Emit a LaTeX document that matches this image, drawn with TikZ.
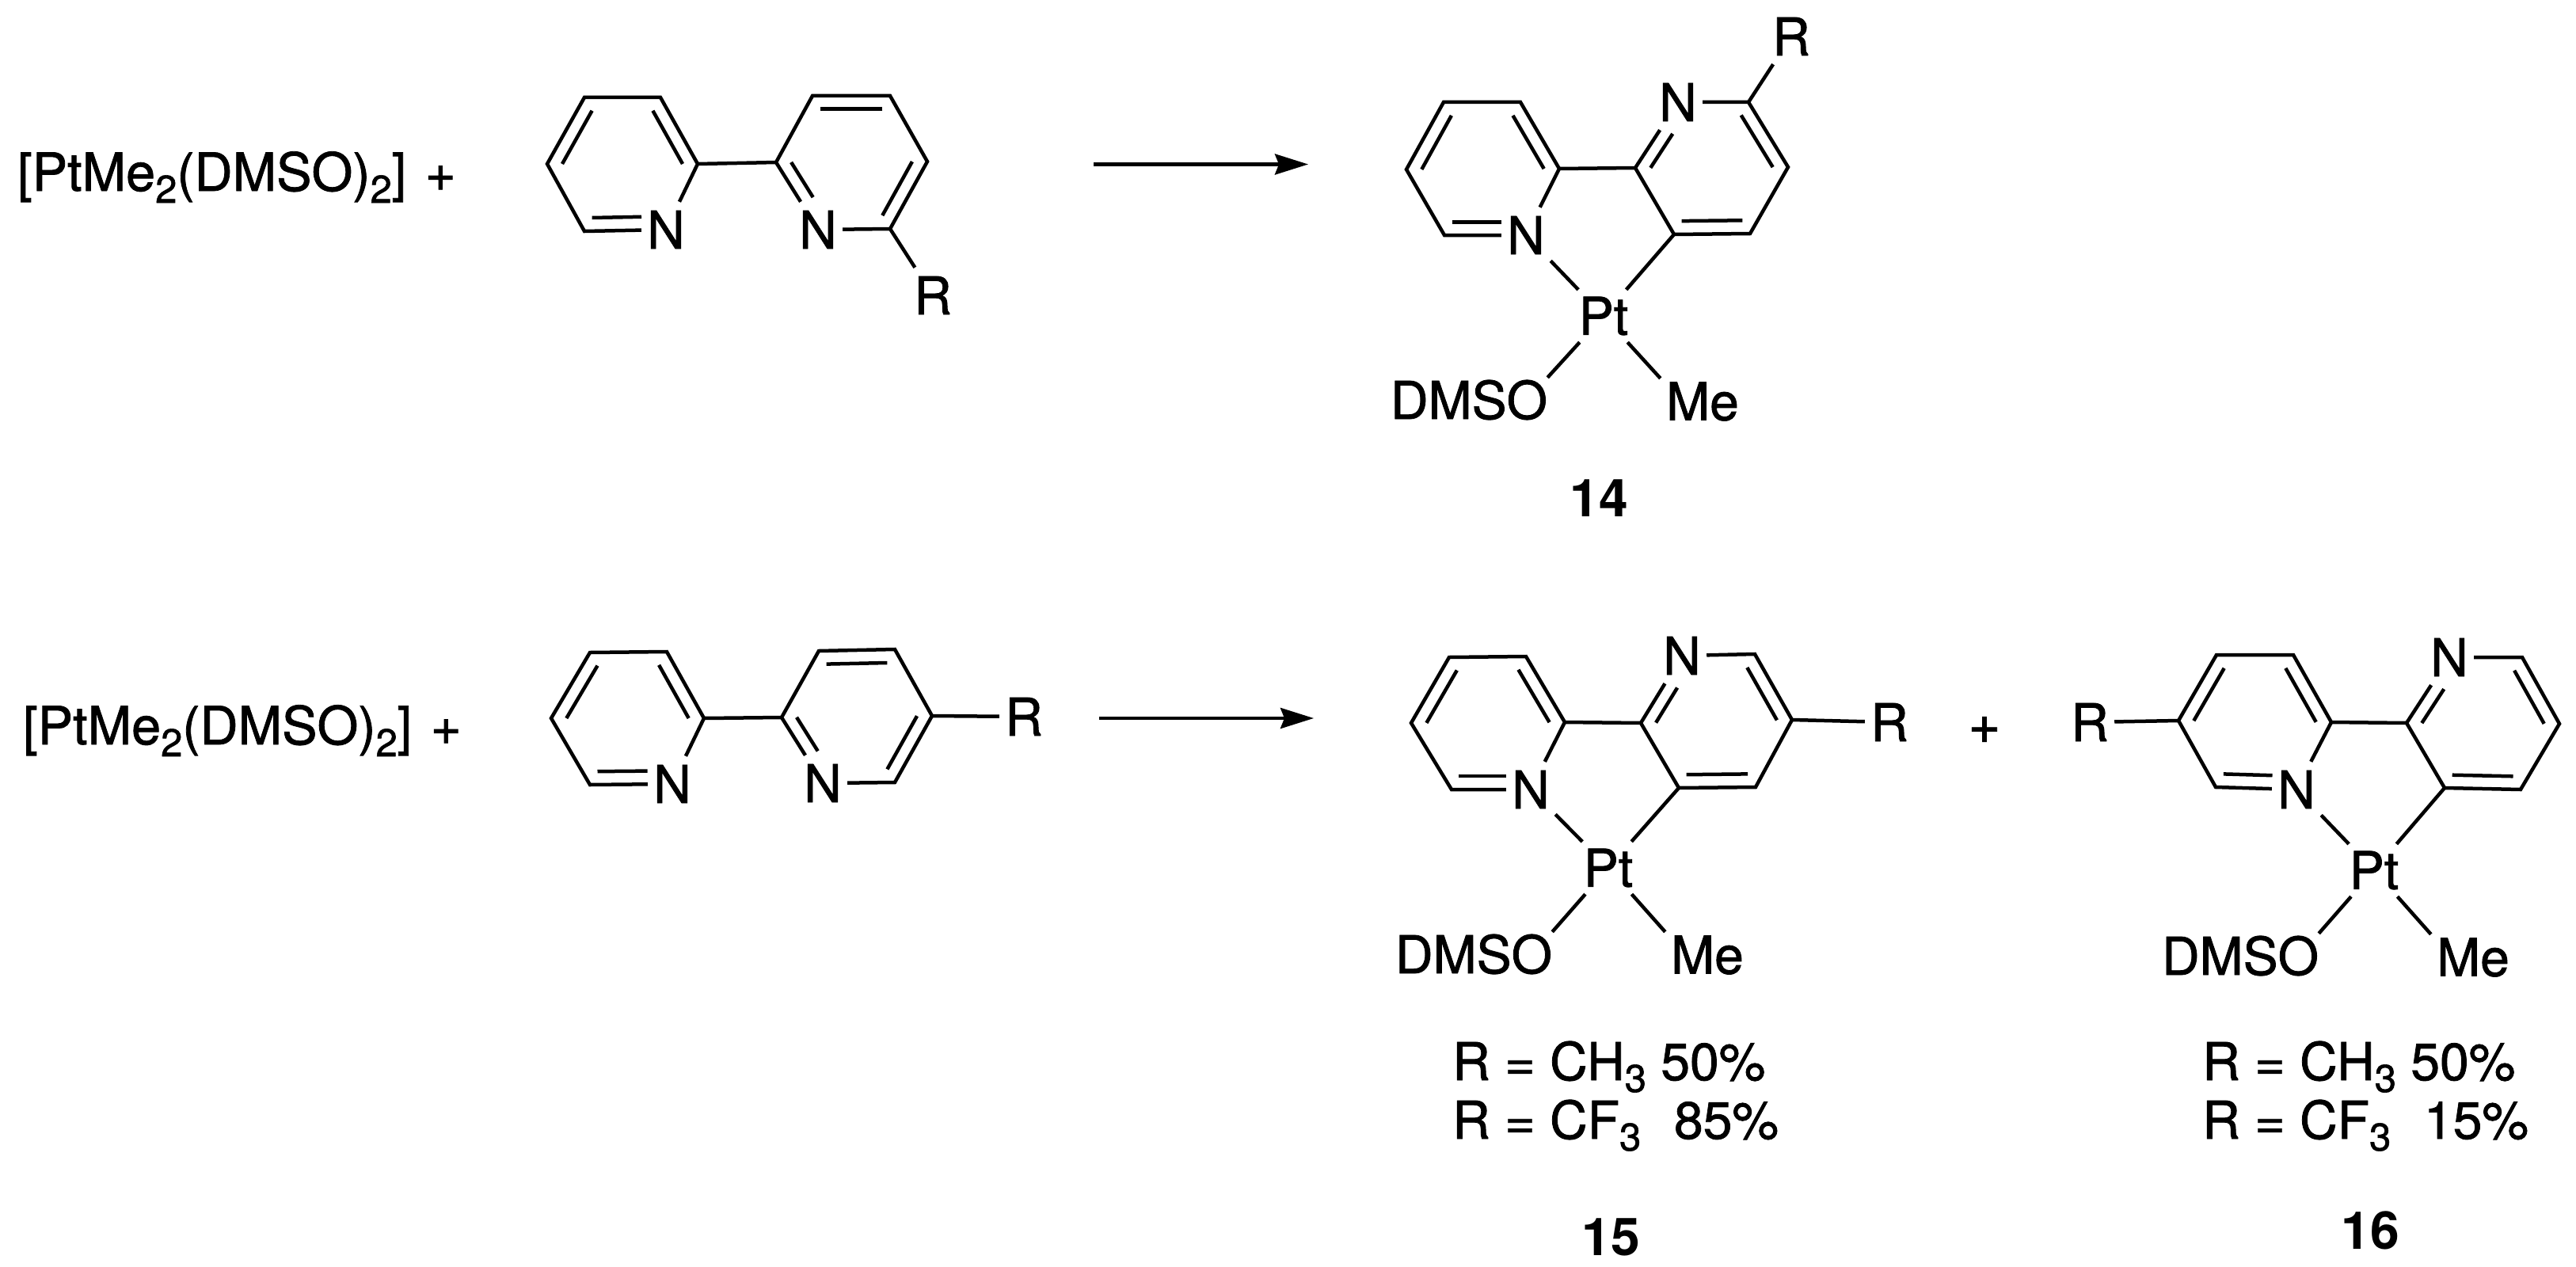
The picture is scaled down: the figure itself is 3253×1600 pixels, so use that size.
\documentclass[tikz,border=0pt]{standalone}
\usepackage{fontspec}
\setmainfont[FakeBold=1.2]{TeX Gyre Heros}
\newfontfamily\labfam{TeX Gyre Heros}
\usetikzlibrary{calc,arrows.meta}
\newcommand{\subs}[1]{\raisebox{-15pt}{\fontsize{49pt}{49pt}\selectfont #1}}
\tikzset{
  bond/.style={line width=4.5pt,line join=miter,miter limit=10},
  atom/.style={inner sep=0pt,minimum width=62pt,minimum height=70pt},
  ptatom/.style={inner sep=0pt,minimum width=72pt,minimum height=66pt},
  dmso/.style={inner sep=0pt,minimum width=194pt,minimum height=56pt},
  meth/.style={inner sep=0pt,minimum width=106pt,minimum height=58pt},
  txt/.style={inner sep=0pt,anchor=base west},
  lab/.style={inner sep=0pt,font=\fontsize{66pt}{66pt}\selectfont\labfam\bfseries},
  rxn/.style={line width=4.2pt,-{Stealth[length=42pt,width=26pt,inset=5pt]}},
}
\newcommand{\bipy}[1]{%
  \draw[bond] (#1N)--(#1d)--(#1e)--(#1a)--(#1b)--(#1c)--(#1N);
  \draw[bond] (#1T)--(#1g)--(#1h)--(#1i)--(#1j)--(#1f)--(#1T);
  \draw[bond] (#1c)--(#1f);
  \coordinate (#1L) at ($(#1c)!.5!(#1e)$);
  \coordinate (#1M) at ($(#1f)!.5!(#1h)$);
  \draw[bond] ($(#1L)!.8!(#1a)$)--($(#1L)!.8!(#1e)$);
  \draw[bond] ($(#1L)!.8!(#1b)$)--($(#1L)!.8!(#1c)$);
  \draw[bond,shorten >=20pt] ($(#1L)!.8!(#1d)$)--($(#1L)!.8!(#1N)$);
  \draw[bond,shorten >=28pt] ($(#1M)!.8!(#1f)$)--($(#1M)!.8!(#1T)$);
  \draw[bond] ($(#1M)!.8!(#1g)$)--($(#1M)!.8!(#1h)$);
  \draw[bond] ($(#1M)!.8!(#1i)$)--($(#1M)!.8!(#1j)$);
}
\newcommand{\ptbonds}[1]{%
  \draw[bond] (#1N)--(#1P);
  \draw[bond] (#1j)--(#1P);
  \draw[bond] (#1P)--(#1D.north east);
  \draw[bond] (#1P)--(#1E.north west);
}
\begin{document}
\begin{tikzpicture}[x=1pt,y=-1pt,font=\fontsize{66pt}{66pt}\selectfont]
\useasboundingbox (0,0) rectangle (3253,1600);
\fill[white] (0,0) rectangle (3253,1600);

% ---------- first row ----------
\node[txt,font=\fontsize{66.6pt}{66pt}\selectfont] (reagA) at (22,241) {[PtMe\subs{2}(DMSO)\subs{2}]\kern5pt{} +};

\coordinate (Aa) at (738,123); \coordinate (Ab) at (834,123);
\coordinate (Ac) at (881,207); \coordinate (Ad) at (738,292);
\coordinate (Ae) at (691,207); \coordinate (Af) at (980,205);
\coordinate (Ag) at (1124,289); \coordinate (Ah) at (1171,204);
\coordinate (Ai) at (1124,121); \coordinate (Aj) at (1026,121);
\node[atom] (AN) at (841,290) {N};
\node[atom] (AT) at (1033,290) {N};
\node[atom] (AR) at (1178,373) {R};
\bipy{A}
\draw[bond] (Ag)--(AR);

\coordinate (arrA1) at (1381,207.5); \coordinate (arrA2) at (1652,207.5);
\draw[rxn] (arrA1)--(arrA2);

\coordinate (Ba) at (1823,129); \coordinate (Bb) at (1920,129);
\coordinate (Bc) at (1969,213); \coordinate (Bd) at (1824,297);
\coordinate (Be) at (1776,214); \coordinate (Bf) at (2065,212);
\coordinate (Bg) at (2208,129); \coordinate (Bh) at (2258,211);
\coordinate (Bi) at (2210,295); \coordinate (Bj) at (2114,296);
\node[atom] (BN) at (1927,297) {N};
\node[atom] (BT) at (2119,129) {N};
\node[atom] (BR) at (2262,46) {R};
\node[ptatom] (BP) at (2025,399) {Pt};
\node[dmso] (BD) at (1855,505) {DMSO};
\node[meth] (BE) at (2150,507) {Me};
\bipy{B}
\draw[bond] (Bg)--(BR);
\ptbonds{B}
\node[lab] (l14) at (2019,629) {14};

% ---------- second row ----------
\node[txt,font=\fontsize{66.6pt}{66pt}\selectfont] (reagC) at (29,940) {[PtMe\subs{2}(DMSO)\subs{2}]\kern5pt{} +};

\coordinate (Ca) at (745,824); \coordinate (Cb) at (842,823);
\coordinate (Cc) at (889,907); \coordinate (Cd) at (745,991);
\coordinate (Ce) at (696,907); \coordinate (Cf) at (987,906);
\coordinate (Cg) at (1130,988); \coordinate (Ch) at (1177,904);
\coordinate (Ci) at (1130,820); \coordinate (Cj) at (1034,822);
\node[atom] (CN) at (849,990) {N};
\node[atom] (CT) at (1039,989) {N};
\node[atom] (CR) at (1293,905) {R};
\bipy{C}
\draw[bond] (Ch)--(CR);

\coordinate (arrC1) at (1388,907); \coordinate (arrC2) at (1659,907);
\draw[rxn] (arrC1)--(arrC2);

\coordinate (Da) at (1830,830); \coordinate (Db) at (1927,829);
\coordinate (Dc) at (1976,912); \coordinate (Dd) at (1833,997);
\coordinate (De) at (1782,913); \coordinate (Df) at (2072,913);
\coordinate (Dg) at (2216,826); \coordinate (Dh) at (2263,909);
\coordinate (Di) at (2217,994); \coordinate (Dj) at (2120,995);
\node[atom] (DN) at (1933,997) {N};
\node[atom] (DT) at (2124,828) {N};
\node[atom] (DR) at (2386,912) {R};
\node[ptatom] (DP) at (2031,1096) {Pt};
\node[dmso] (DD) at (1861,1205) {DMSO};
\node[meth] (DE) at (2156,1206) {Me};
\bipy{D}
\draw[bond] (Dh)--(DR);
\ptbonds{D}
\node[txt] (yD1) at (1834,1364) {R = CH\subs{3} 50\%};
\node[txt] (yD2) at (1834,1438) {R = CF\subs{3}\ \ \kern5pt 85\%};
\node[lab] (l15) at (2034,1562) {15};

\node[inner sep=0pt,font=\fontsize{70pt}{70pt}\selectfont] (plus) at (2506,922) {+};

\coordinate (Ea) at (2799,827); \coordinate (Eb) at (2896,827);
\coordinate (Ec) at (2944,912); \coordinate (Ed) at (2798,994);
\coordinate (Ee) at (2751,910); \coordinate (Ef) at (3039,913);
\coordinate (Eg) at (3185,830); \coordinate (Eh) at (3232,914);
\coordinate (Ei) at (3183,997); \coordinate (Ej) at (3087,995);
\node[atom] (EN) at (2900,997) {N};
\node[atom] (ET) at (3093,830) {N};
\node[atom] (ER) at (2639,912) {R};
\node[ptatom] (EP) at (2998,1099) {Pt};
\node[dmso] (ED) at (2829,1207) {DMSO};
\node[meth] (EE) at (3123,1209) {Me};
\bipy{E}
\draw[bond] (Ee)--(ER);
\ptbonds{E}
\node[txt] (yE1) at (2781,1364) {R = CH\subs{3} 50\%};
\node[txt] (yE2) at (2781,1438) {R = CF\subs{3}\ \ \kern5pt 15\%};
\node[lab] (l16) at (2993,1554) {16};
\end{tikzpicture}
\end{document}
